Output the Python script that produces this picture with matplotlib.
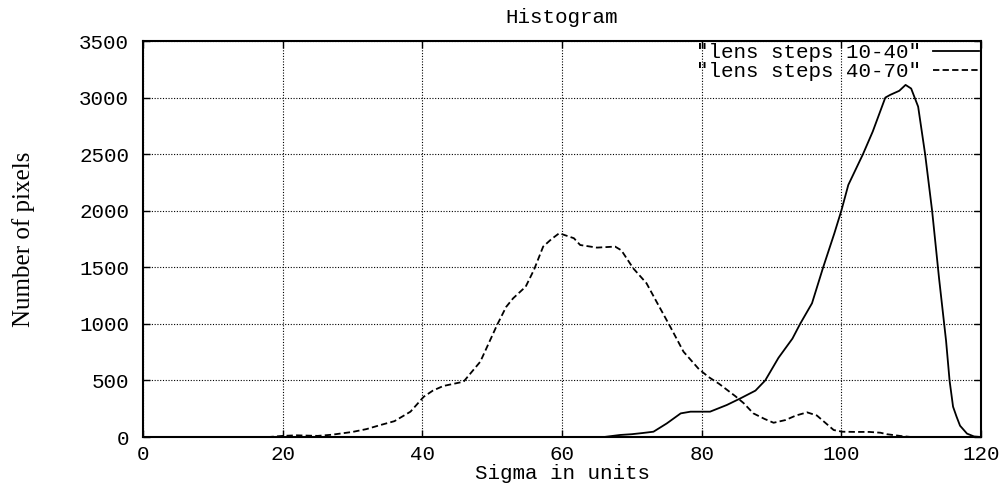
import matplotlib
matplotlib.use("Agg")
import matplotlib.pyplot as plt

# "lens steps 10-40" (solid)
x_10_40 = [0, 66, 68.3, 70, 71.5, 73.1, 75, 77, 78.4, 81.2, 83.6, 85.5, 87.7, 89.1, 91, 93,
           94.1, 95.8, 97.4, 99, 100, 101, 103.1, 104.5, 106.3, 107, 108.3, 109.2, 110, 111,
           112, 113, 114, 115, 115.5, 116, 116.5, 117, 118, 119, 120]
y_10_40 = [0, 0, 18, 25, 35, 47, 120, 209, 224, 224, 283, 340, 410, 500, 700, 870,
           1000, 1182, 1500, 1800, 2000, 2228, 2500, 2700, 3000, 3024, 3060, 3112, 3080, 2920,
           2500, 2000, 1400, 850, 500, 268, 180, 100, 30, 5, 0]

# "lens steps 40-70" (dashed)
x_40_70 = [0, 18, 20, 22, 25, 27, 30, 32, 34, 36, 38.3, 40.2, 41.5, 43, 45.9, 48.3, 50.7, 52,
           53, 54.8, 56, 57.3, 58.5, 59.6, 61.7, 62.6, 65, 67.6, 68.5, 70.2, 72.1, 73.5, 75.5,
           77.4, 79.6, 81, 82.5, 84.8, 86, 87.4, 89, 90.3, 92, 93.5, 95.1, 96.5, 98, 98.9,
           100.1, 102, 104, 105.6, 106.5, 108.5, 110, 120]
y_40_70 = [0, 0, 10, 15, 10, 20, 45, 70, 106, 140, 224, 356, 410, 451, 489, 666, 990, 1150,
           1226, 1329, 1480, 1683, 1750, 1801, 1757, 1697, 1674, 1683, 1650, 1491, 1359, 1200, 975,
           754, 600, 530, 470, 362, 300, 209, 160, 126, 150, 190, 218, 190, 110, 62,
           47, 45, 45, 38, 25, 9, 0, 0]

x_ticks = [0, 20, 40, 60, 80, 100, 120]
y_ticks = [0, 500, 1000, 1500, 2000, 2500, 3000, 3500]

mono = "Liberation Mono"

fig = plt.figure(figsize=(10.08, 4.83), dpi=100)
ax = fig.add_axes([0.1419, 0.0952, 0.8313, 0.8199])

ax.plot(x_10_40, y_10_40, color="black", lw=1.3, label='"lens steps 10-40"')
ax.plot(x_40_70, y_40_70, color="black", lw=1.3, dashes=(3.5, 1.8), label='"lens steps 40-70"')

ax.set_xlim(0, 120)
ax.set_ylim(0, 3500)
ax.set_xticks(x_ticks)
ax.set_yticks(y_ticks)
ax.grid(True, color="black", linestyle=(0, (1, 1.5)), linewidth=0.8)
ax.tick_params(direction="in", top=True, right=True, length=5, width=1, pad=10,
               labelsize=15)
ax.tick_params(axis="x", pad=6)
for lbl in ax.get_xticklabels() + ax.get_yticklabels():
    lbl.set_fontfamily(mono)
for s in ax.spines.values():
    s.set_linewidth(1.5)
    s.set_color("black")

ax.set_title("Histogram", fontfamily=mono, fontsize=15, pad=13)
ax.set_xlabel("Sigma in units", fontfamily=mono, fontsize=15, labelpad=0)
ax.set_ylabel("Number of pixels", fontfamily="Liberation Serif", fontsize=18, labelpad=32)

leg = ax.legend(loc="upper right", frameon=False, markerfirst=False,
                prop={"family": mono, "size": 15}, handlelength=2.2,
                labelspacing=0.0, borderaxespad=0.0, borderpad=0.1, handletextpad=0.6)

fig.savefig("out.png", dpi=100)
